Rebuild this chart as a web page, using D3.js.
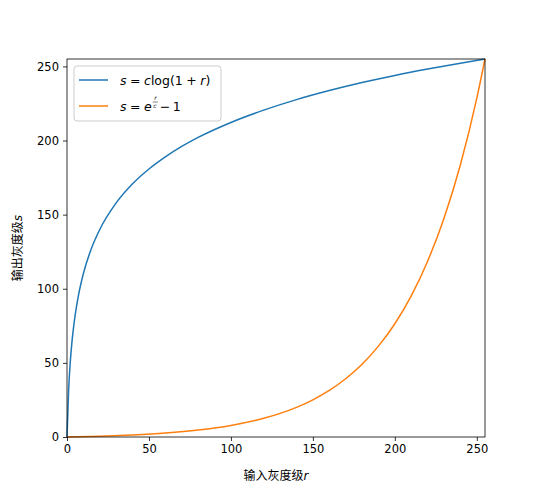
<!DOCTYPE html>
<html>
<head>
<meta charset="utf-8">
<script src="https://cdn.jsdelivr.net/npm/d3@7"></script>
<style>
  body { margin: 0; background: #fff; }
  svg { display: block; }
  text { font-family: "DejaVu Sans", sans-serif; }
</style>
</head>
<body>
<svg width="539" height="492"></svg>
<script>
// values
var rLog = [0, 1, 2, 3, 5, 7, 10, 15, 20, 30, 40, 50, 60, 70, 80, 100, 120, 140, 160, 180, 200, 220, 240, 255];
var sLog = [0, 31.9, 50.5, 63.8, 82.4, 95.6, 110.3, 127.5, 140.0, 157.9, 170.8, 180.8, 189.0, 196.0, 202.1, 212.2, 220.5, 227.6, 233.7, 239.1, 243.9, 248.2, 252.2, 255];
var rExp = [0, 20, 40, 60, 80, 100, 120, 140, 150, 160, 170, 180, 190, 200, 210, 220, 230, 240, 250, 255];
var sExp = [0, 0.5, 1.4, 2.7, 4.7, 7.8, 12.6, 20.0, 25.1, 31.4, 39.3, 49.1, 61.3, 76.4, 95.2, 118.6, 147.6, 183.7, 228.6, 255];
var xTicks = [0, 50, 100, 150, 200, 250];
var yTicks = [0, 50, 100, 150, 200, 250];

var svg = d3.select("svg"),
    margin = {top: 59, right: 54, bottom: 55, left: 67},
    width = +svg.attr("width") - margin.left - margin.right,
    height = +svg.attr("height") - margin.top - margin.bottom,
    g = svg.append("g").attr("transform", "translate(" + margin.left + "," + margin.top + ")");

var x = d3.scaleLinear().domain([0, 255]).range([0, width]);
var y = d3.scaleLinear().domain([0, 255]).range([height, 0]);

var line = d3.line()
    .x(function(d) { return x(d[0]); })
    .y(function(d) { return y(d[1]); })
    .curve(d3.curveMonotoneX);

g.append("path")
  .datum(rLog.map(function(r, i) { return [r, sLog[i]]; }))
  .attr("fill", "none").attr("stroke", "#1f77b4").attr("stroke-width", 1.5)
  .attr("d", line);

g.append("path")
  .datum(rExp.map(function(r, i) { return [r, sExp[i]]; }))
  .attr("fill", "none").attr("stroke", "#ff7f0e").attr("stroke-width", 1.5)
  .attr("d", line);

// axes
var xAxis = g.append("g")
  .attr("transform", "translate(0," + height + ")")
  .call(d3.axisBottom(x).tickValues(xTicks).tickSize(4).tickPadding(4));
var yAxis = g.append("g")
  .call(d3.axisLeft(y).tickValues(yTicks).tickSize(4).tickPadding(4));
[xAxis, yAxis].forEach(function(a) {
  a.select(".domain").remove();
  a.selectAll("line").attr("stroke", "#000").attr("stroke-width", 0.8);
  a.selectAll("text").attr("font-size", 11.5).attr("fill", "#000")
    .style("font-family", "DejaVu Sans");
});

// frame
g.append("rect")
  .attr("width", width).attr("height", height)
  .attr("fill", "none").attr("stroke", "#000").attr("stroke-width", 0.8);

// axis labels
svg.append("text")
  .attr("x", margin.left + width / 2).attr("y", 480)
  .attr("text-anchor", "middle").attr("font-size", 12)
  .html('<tspan style="font-family:\'Noto Sans CJK SC\'">输入灰度级</tspan><tspan font-style="italic">r</tspan>');

svg.append("text")
  .attr("transform", "translate(22," + (margin.top + height / 2) + ") rotate(-90)")
  .attr("text-anchor", "middle").attr("font-size", 12)
  .html('<tspan style="font-family:\'Noto Sans CJK SC\'">输出灰度级</tspan><tspan font-style="italic">s</tspan>');

// legend
var legend = g.append("g").attr("transform", "translate(7,7)");
legend.append("rect")
  .attr("width", 147).attr("height", 55).attr("rx", 3)
  .attr("fill", "#fff").attr("fill-opacity", 0.8)
  .attr("stroke", "#ccc").attr("stroke-width", 1);

var colors = ["#1f77b4", "#ff7f0e"];
colors.forEach(function(c, i) {
  legend.append("line")
    .attr("x1", 5).attr("x2", 34)
    .attr("y1", 14 + i * 26).attr("y2", 14 + i * 26)
    .attr("stroke", c).attr("stroke-width", 1.5);
});

legend.append("text")
  .attr("x", 46).attr("y", 18.5).attr("font-size", 12.5)
  .html('<tspan font-style="italic">s</tspan><tspan dx="3.5">=</tspan><tspan dx="3.5" font-style="italic">c</tspan>log(1<tspan dx="3.5">+</tspan><tspan dx="3.5" font-style="italic">r</tspan>)');

var t2 = legend.append("text")
  .attr("x", 46).attr("y", 44.5).attr("font-size", 12.5)
  .html('<tspan font-style="italic">s</tspan><tspan dx="3.5">=</tspan><tspan dx="3.5" font-style="italic">e</tspan>');
var ex = 46 + t2.node().getComputedTextLength() + 7 + 1;
legend.append("text").attr("x", ex + 1.5).attr("y", 34).attr("font-size", 6)
  .attr("font-style", "italic").text("r");
legend.append("line").attr("x1", ex).attr("x2", ex + 5).attr("y1", 36).attr("y2", 36)
  .attr("stroke", "#000").attr("stroke-width", 0.5);
legend.append("text").attr("x", ex + 0.5).attr("y", 41.5).attr("font-size", 6)
  .attr("font-style", "italic").text("c");
legend.append("text")
  .attr("x", ex + 7).attr("y", 44.5).attr("font-size", 12.5)
  .text("\u2212\u20091");
</script>
</body>
</html>
